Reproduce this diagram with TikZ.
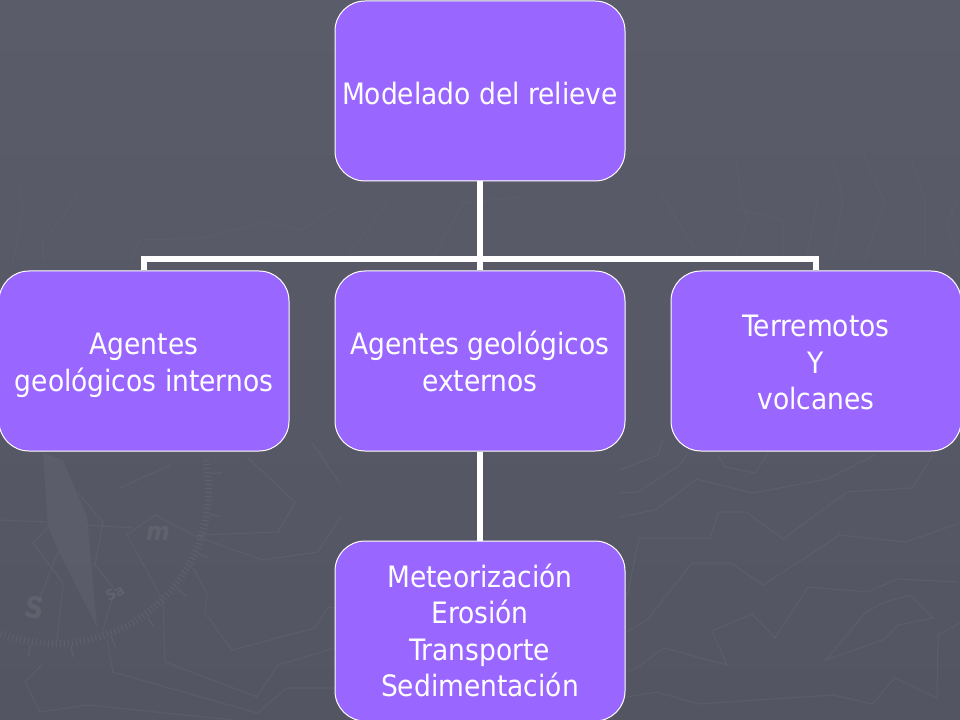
\documentclass[tikz,border=0pt]{standalone}
\usepackage{fontspec}
\setmainfont{DejaVu Sans Condensed}
\definecolor{bgtop}{HTML}{5B5C6A}
\definecolor{bgbot}{HTML}{545562}
\definecolor{boxfill}{HTML}{9966FF}
\newcommand{\lnstrut}{\rule[-7.6pt]{0pt}{19.8pt}}
\newcommand{\firststrut}[1]{\rule[-7.6pt]{0pt}{\dimexpr 19.8pt+#1\relax}}
\tikzset{
  diagbox/.style={draw=white,line width=0.75pt,fill=boxfill,rounded corners=22.5pt,
    minimum width=217.5pt,minimum height=135pt,inner sep=0pt,align=center,
    text=white,font=\fontsize{22.1pt}{27.4pt}\selectfont},
  link/.style={draw=white,line width=4.5pt,line cap=butt,line join=miter},
  contour/.style={draw=white,draw opacity=0.045,line width=0.85pt},
  contourfaint/.style={draw=white,draw opacity=0.022,line width=0.85pt},
  bgmark/.style={text=white,text opacity=0.07}
}
\begin{document}
\begin{tikzpicture}[x=0.75pt,y=-0.75pt]
\useasboundingbox (0,0) rectangle (960,720);
\fill[top color=bgtop,bottom color=bgbot] (0,0) rectangle (960,720);
% lower left contours
\draw[contour] (247,457)--(295,502)--(278,532)--(197,535);
\draw[contour] (127,535)--(155,515)--(193,535)--(262,560)--(318,552)--(340,518);
\draw[contour] (127,535)--(163,600)--(165,662)--(257,697)--(278,665)--(335,648);
\draw[contour] (193,568)--(207,593)--(205,613)--(232,650)--(315,628)--(328,607)--(335,608);
\draw[contour] (107,640)--(113,672)--(257,713)--(287,688)--(335,688);
\draw[contour] (43,663)--(25,682)--(40,712)--(88,705)--(233,720);
\draw[contour] (0,520)--(47,522) (87,525)--(133,528);
\draw[contour] (78,493)--(103,522)--(95,565)--(115,590)--(103,630);
\draw[contour] (58,552)--(38,603) (63,585)--(57,640) (48,527)--(33,543)--(63,583);
\draw[contour] (120,488)--(170,465) (312,443)--(340,483);
% lower right contours
\draw[contour] (620,470)--(658,455)--(663,440);
\draw[contour] (620,493)--(638,492)--(680,465)--(688,453);
\draw[contour] (620,517)--(655,510)--(697,479)--(753,493)--(827,479)--(875,455);
\draw[contour] (718,455)--(725,467)--(755,473)--(768,453);
\draw[contour] (627,597)--(639,538)--(710,538)--(719,512)--(746,512)--(783,539)--(847,492)--(912,488)--(933,455);
\draw[contour] (625,633)--(647,620)--(692,563)--(731,563)--(763,585)--(840,535)--(905,542)--(960,523);
\draw[contour] (627,671)--(633,670)--(664,648)--(727,665)--(712,631)--(752,614)--(775,638)--(808,587)--(867,592)--(898,579)--(958,582);
\draw[contour] (826,660)--(865,613)--(882,603)--(910,595)--(933,618)--(898,625)--(885,639)--cycle;
\draw[contour] (627,697)--(657,692)--(698,704)--(833,695)--(872,704)--(895,678)--(937,698)--(938,635)--(960,623);
% upper contours
\draw[contourfaint] (657,187)--(697,253);
\draw[contourfaint] (737,160)--(740,197)--(748,217)--(735,257);
\draw[contourfaint] (730,207)--(783,220)--(783,257);
\draw[contourfaint] (833,160)--(843,200)--(833,257);
\draw[contourfaint] (817,200)--(807,257);
\draw[contourfaint] (863,153)--(885,203)--(865,257)--(867,267);
\draw[contourfaint] (912,163)--(925,200)--(925,260);
\draw[contourfaint] (957,197)--(947,227)--(958,257);
\draw[contourfaint] (18,183)--(23,207)--(12,267);
\draw[contourfaint] (78,193)--(63,217)--(42,243)--(45,267);
\draw[contourfaint] (128,268)--(140,240)--(203,238)--(267,222)--(302,230)--(337,207);
\draw[contourfaint] (433,257)--(463,203)--(520,197);
\draw[contourfaint] (347,257)--(387,203);
% compass
\fill[white,fill opacity=0.04] (43,453)--(63,460)--(87,517)--(97,627)--(58,550)--(48,527)--cycle;
\foreach \a in {-11,-9.5,...,112}{\draw[white,draw opacity=0.06,line width=0.8pt] ({55+150*cos(\a)},{490+150*sin(\a)})--({55+157*cos(\a)},{490+157*sin(\a)});}
\foreach \a in {-6,9,...,110}{\draw[white,draw opacity=0.06,line width=0.8pt] ({55+157*cos(\a)},{490+157*sin(\a)})--({55+168*cos(\a)},{490+168*sin(\a)});}
\node[bgmark,font=\fontsize{22pt}{22pt}\selectfont\bfseries,rotate=-10] (markS) at (35,608) {S};
\node[bgmark,font=\fontsize{19pt}{19pt}\selectfont\bfseries\itshape] (markM) at (158,533) {m};
\node[bgmark,font=\fontsize{11pt}{11pt}\selectfont\bfseries,rotate=25] (markSa) at (115,593) {Sa};
% diagram
\node[diagbox] (top) at (480,91) {\firststrut{15.5pt}Modelado del relieve};
\node[diagbox] (left) at (144,361) {\firststrut{13.5pt}Agentes\\\lnstrut geológicos internos};
\node[diagbox] (mid) at (480,361) {\firststrut{13.5pt}Agentes geológicos\\\lnstrut externos};
\node[diagbox] (right) at (816,361) {\firststrut{13.5pt}Terremotos\\\lnstrut Y\\\lnstrut volcanes};
\node[diagbox] (bot) at (480,631) {\firststrut{12pt}Meteorización\\\lnstrut Erosión\\\lnstrut Transporte\\\lnstrut Sedimentación};
\coordinate (bus) at (480,259);
\draw[link] (top.south) -- (mid.north);
\draw[link] (left.north) -- (left.north |- bus) -- (right.north |- bus) -- (right.north);
\draw[link] (mid.south) -- (bot.north);
\end{tikzpicture}
\end{document}
